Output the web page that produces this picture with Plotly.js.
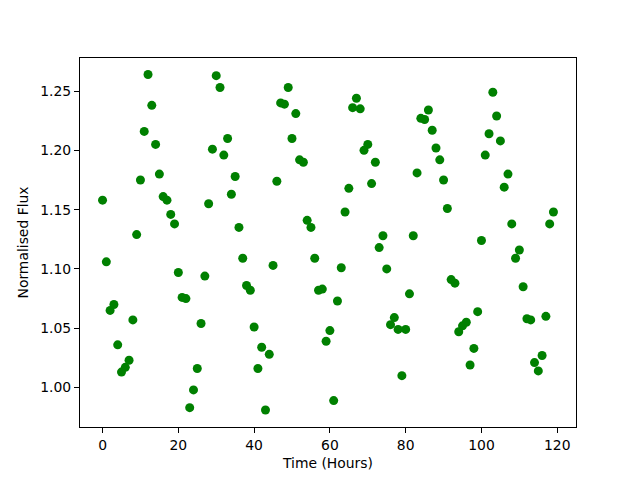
<!DOCTYPE html>
<html>
<head>
<meta charset="utf-8">
<script src="https://cdn.plot.ly/plotly-3.0.1.min.js"></script>
<style>html,body{margin:0;padding:0;background:#fff;}#chart{width:640px;height:480px;}</style>
</head>
<body>
<div id="chart"></div>
<script>
const hours = Array.from({length: 120}, (_, i) => i);
const flux = [
  1.158, 1.106, 1.065, 1.070, 1.036, 1.013, 1.017, 1.023, 1.057, 1.129,
  1.175, 1.216, 1.264, 1.238, 1.205, 1.180, 1.161, 1.158, 1.146, 1.138,
  1.097, 1.076, 1.075, 0.983, 0.998, 1.016, 1.054, 1.094, 1.155, 1.201,
  1.263, 1.253, 1.196, 1.210, 1.163, 1.178, 1.135, 1.109, 1.086, 1.082,
  1.051, 1.016, 1.034, 0.981, 1.028, 1.103, 1.174, 1.240, 1.239, 1.253,
  1.210, 1.231, 1.192, 1.190, 1.141, 1.135, 1.109, 1.082, 1.083, 1.039,
  1.048, 0.989, 1.073, 1.101, 1.148, 1.168, 1.236, 1.244, 1.235, 1.200,
  1.205, 1.172, 1.190, 1.118, 1.128, 1.100, 1.053, 1.059, 1.049, 1.010,
  1.049, 1.079, 1.128, 1.181, 1.227, 1.226, 1.234, 1.217, 1.202, 1.192,
  1.175, 1.151, 1.091, 1.088, 1.047, 1.052, 1.055, 1.019, 1.033, 1.064,
  1.124, 1.196, 1.214, 1.249, 1.229, 1.208, 1.169, 1.180, 1.138, 1.109,
  1.116, 1.085, 1.058, 1.057, 1.021, 1.014, 1.027, 1.060, 1.138, 1.148
];
const xTicks = [0, 20, 40, 60, 80, 100, 120];
const yTicks = [1.00, 1.05, 1.10, 1.15, 1.20, 1.25];

const font = {family: 'DejaVu Sans, sans-serif', size: 13.9, color: '#000'};
const axisCommon = {
  showline: true, linecolor: '#000', linewidth: 1.1, mirror: true,
  ticks: 'outside', ticklen: 5, tickwidth: 1.1, tickcolor: '#000',
  showgrid: false, zeroline: false, tickfont: font
};

Plotly.newPlot('chart', [{
  x: hours, y: flux, type: 'scatter', mode: 'markers',
  marker: {color: '#008000', size: 9, line: {width: 0}},
  hoverinfo: 'skip'
}], {
  width: 640, height: 480,
  margin: {l: 80, r: 64, t: 58, b: 53, pad: 0},
  paper_bgcolor: '#fff', plot_bgcolor: '#fff',
  showlegend: false,
  font: font,
  xaxis: Object.assign({}, axisCommon, {
    range: [-5.95, 124.95], tickvals: xTicks, ticktext: xTicks.map(String),
    title: {text: 'Time (Hours)', font: font, standoff: 6}
  }),
  yaxis: Object.assign({}, axisCommon, {
    range: [0.9667, 1.2779], tickvals: yTicks, ticktext: yTicks.map(v => v.toFixed(2)),
    title: {text: 'Normalised Flux', font: font, standoff: 8}
  })
}, {staticPlot: true});
</script>
</body>
</html>
